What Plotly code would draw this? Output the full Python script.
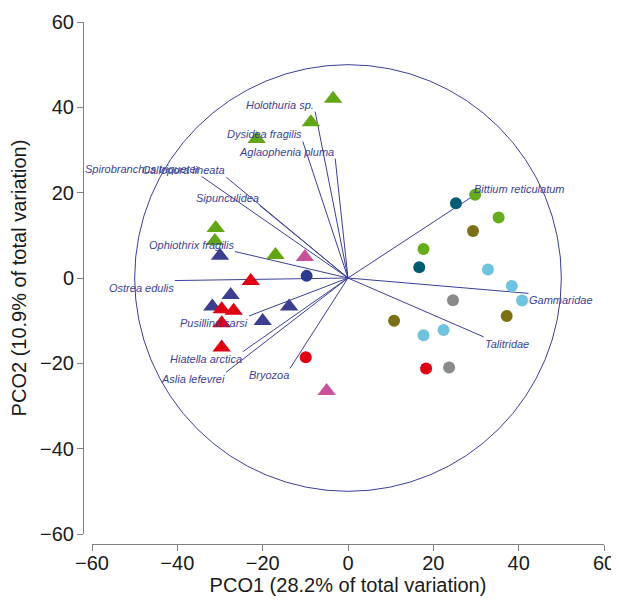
import plotly.graph_objects as go

# ---- sample scores (PCO1, PCO2) grouped by symbol/colour ----
green_tri_x = [-3.5, -8.7, -21.4, -31.0, -31.2, -17.0]
green_tri_y = [42.0, 36.5, 32.6, 11.7, 8.7, 5.4]

pink_tri_x = [-10.1, -5.0]
pink_tri_y = [4.9, -26.5]

navy_tri_x = [-30.0, -27.5, -31.8, -13.8, -20.0]
navy_tri_y = [5.2, -4.0, -6.7, -6.7, -10.1]

red_tri_x = [-22.8, -29.6, -26.8, -29.6, -29.6]
red_tri_y = [-0.7, -7.3, -7.7, -10.6, -16.3]

navy_dot_x = [-9.7]
navy_dot_y = [0.5]

red_dot_x = [-9.9, 18.3]
red_dot_y = [-18.6, -21.2]

teal_dot_x = [25.3, 16.7]
teal_dot_y = [17.5, 2.5]

green_dot_x = [29.8, 35.3, 17.7]
green_dot_y = [19.5, 14.2, 6.8]

olive_dot_x = [29.3, 37.2, 10.8]
olive_dot_y = [11.0, -8.9, -10.0]

lblue_dot_x = [32.8, 38.4, 40.8, 22.4, 17.7]
lblue_dot_y = [2.0, -1.9, -5.3, -12.2, -13.4]

grey_dot_x = [24.6, 23.7]
grey_dot_y = [-5.2, -21.0]

# ---- vector overlay (taxa) ----
vec_names = ["Holothuria sp.", "Dysidea fragilis", "Aglaophenia pluma",
             "Spirobranchus triqueter", "Callopora lineata", "Sipunculidea",
             "Ophiothrix fragilis", "Ostrea edulis", "Pusillina sarsi",
             "Hiatella arctica", "Aslia lefevrei", "Bryozoa",
             "Bittium reticulatum", "Gammaridae", "Talitridae"]
vec_x = [-7.7, -10.6, -3.0, -34.3, -28.5, -20.7, -26.5, -40.6, -23.2,
         -24.7, -28.6, -13.6, 29.3, 42.3, 31.8]
vec_y = [39.0, 32.0, 28.0, 23.8, 23.6, 17.0, 6.2, -0.6, -8.9,
         -17.3, -22.1, -21.2, 19.2, -3.6, -13.8]
circle_radius = 50

x_ticks = [-60, -40, -20, 0, 20, 40, 60]
y_ticks = [-60, -40, -20, 0, 20, 40, 60]

VEC = "#3b3f96"
fig = go.Figure()

# vectors
lx, ly = [], []
for x, y in zip(vec_x, vec_y):
    lx += [0, x, None]
    ly += [0, y, None]
fig.add_trace(go.Scatter(x=lx, y=ly, mode="lines",
                         line=dict(color=VEC, width=1), hoverinfo="skip"))

fig.add_shape(type="circle", xref="x", yref="y",
              x0=-circle_radius, x1=circle_radius,
              y0=-circle_radius, y1=circle_radius,
              line=dict(color=VEC, width=1))

def add(xs, ys, color, symbol, size):
    fig.add_trace(go.Scatter(x=xs, y=ys, mode="markers",
                             marker=dict(color=color, symbol=symbol, size=size,
                                         line=dict(width=0))))

add(green_tri_x, green_tri_y, "#62a515", "triangle-up", 16)
add(pink_tri_x, pink_tri_y, "#c8529a", "triangle-up", 16)
add(navy_tri_x, navy_tri_y, "#3c3f8f", "triangle-up", 16)
add(red_tri_x, red_tri_y, "#e00014", "triangle-up", 16)
add(navy_dot_x, navy_dot_y, "#2b3a8f", "circle", 12)
add(red_dot_x, red_dot_y, "#e00014", "circle", 12)
add(teal_dot_x, teal_dot_y, "#005c72", "circle", 12)
add(green_dot_x, green_dot_y, "#66ab1c", "circle", 12)
add(olive_dot_x, olive_dot_y, "#7b7114", "circle", 12)
add(lblue_dot_x, lblue_dot_y, "#70c3de", "circle", 12)
add(grey_dot_x, grey_dot_y, "#8a8a8a", "circle", 12)

for name, x, y in zip(vec_names, vec_x, vec_y):
    fig.add_annotation(x=x, y=y, xref="x", yref="y", text=name, showarrow=False,
                       xanchor="right" if x < 0 else "left",
                       yanchor="bottom" if y > 0 else "top",
                       font=dict(family="Liberation Sans, Arial", size=11,
                                 color=VEC, style="italic"),
                       borderpad=0)

axis_common = dict(showgrid=False, zeroline=False, showline=True,
                   linecolor="#808080", linewidth=1, ticks="outside",
                   ticklen=6, tickcolor="#808080", automargin=False,
                   tickfont=dict(family="Liberation Sans, Arial", size=20,
                                 color="#1a1a1a"),
                   range=[-60, 60])

# page body adds an 8px offset, so the figure is 611x598
fig.update_layout(
    width=611, height=598,
    margin=dict(l=72, r=15, t=14, b=62),
    paper_bgcolor="white", plot_bgcolor="white",
    showlegend=False,
    xaxis=dict(axis_common, domain=[12 / 524, 1], anchor="free", position=0,
               tickvals=x_ticks, ticklabelstandoff=-5,
               title=dict(text="PCO1 (28.2% of total variation)",
                          font=dict(family="Liberation Sans, Arial", size=20,
                                    color="#1a1a1a"), standoff=0)),
    yaxis=dict(axis_common, domain=[10 / 522, 1], anchor="free",
               position=3 / 524, tickvals=y_ticks, ticklabelstandoff=-1,
               title=dict(text="PCO2 (10.9% of total variation)",
                          font=dict(family="Liberation Sans, Arial", size=20,
                                    color="#1a1a1a"), standoff=12)),
)

fig.write_html("out.html")
